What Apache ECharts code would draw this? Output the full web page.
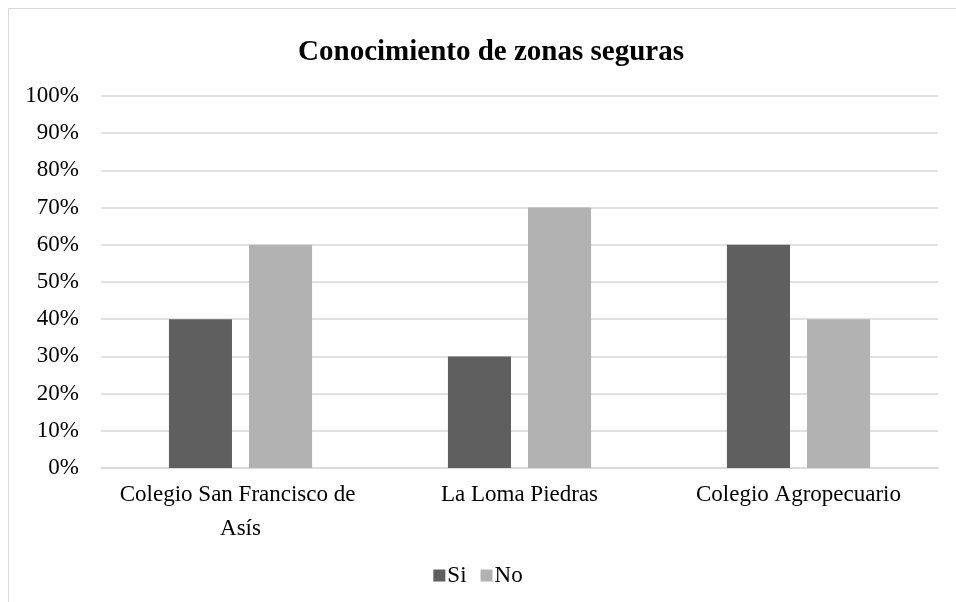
<!DOCTYPE html>
<html>
<head>
<meta charset="utf-8">
<script src="https://cdn.jsdelivr.net/npm/echarts@6/dist/echarts.min.js"></script>
<style>
  html, body { margin: 0; padding: 0; background: #fff; }
  #frame {
    position: absolute; left: 8px; top: 8px;
    width: 1000px; height: 700px;
    border: 1px solid #d9d9d9; box-sizing: border-box;
  }
  #chart { position: absolute; left: 0; top: 0; width: 956px; height: 602px; }
</style>
</head>
<body>
<div id="frame"></div>
<div id="chart"></div>
<script>
// datos
const categorias = ['Colegio San Francisco de Asís', 'La Loma Piedras', 'Colegio Agropecuario'];
const si = [40, 30, 60];
const no = [60, 70, 40];

const fuente = '"Liberation Serif", "DejaVu Serif", serif';

const myChart = echarts.init(document.getElementById('chart'));
myChart.setOption({
  backgroundColor: 'transparent',
  animation: false,
  title: {
    text: 'Conocimiento de zonas seguras',
    left: 486,
    top: 33,
    textAlign: 'center',
    textStyle: { fontFamily: fuente, fontSize: 29, fontWeight: 'bold', color: '#000' }
  },
  legend: {
    bottom: 10,
    left: 'center',
    itemWidth: 12,
    itemHeight: 12,
    itemGap: 14,
    icon: 'rect',
    textStyle: { fontFamily: fuente, fontSize: 23, color: '#000', padding: [0, 0, 0, -3] },
    data: ['Si', 'No']
  },
  grid: { left: 101, right: 18, top: 96, bottom: 134 },
  xAxis: {
    type: 'category',
    data: categorias,
    axisTick: { show: false },
    axisLine: { lineStyle: { color: '#d9d9d9', width: 1.5 } },
    axisLabel: {
      fontFamily: fuente, fontSize: 23, color: '#000', margin: 10,
      width: 255, overflow: 'break', lineHeight: 34, interval: 0
    }
  },
  yAxis: {
    type: 'value',
    min: 0,
    max: 100,
    interval: 10,
    axisLabel: { formatter: '{value}%', fontFamily: fuente, fontSize: 23, color: '#000', margin: 22 },
    splitLine: { lineStyle: { color: '#d9d9d9', width: 1.5 } },
    axisLine: { show: false },
    axisTick: { show: false }
  },
  series: [
    {
      name: 'Si',
      type: 'bar',
      data: si,
      barWidth: '22.6%',
      barGap: '27%',
      itemStyle: { color: '#5f5f5f' }
    },
    {
      name: 'No',
      type: 'bar',
      data: no,
      barWidth: '22.6%',
      itemStyle: { color: '#b2b2b2' }
    }
  ]
});
</script>
</body>
</html>
